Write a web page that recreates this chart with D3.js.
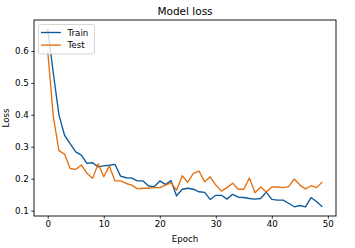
<!DOCTYPE html>
<html>
<head>
<meta charset="utf-8">
<script src="https://cdn.jsdelivr.net/npm/d3@7"></script>
<style>
  body { margin: 0; background: #fff; }
  svg text { font-family: "DejaVu Sans", sans-serif; fill: #000; }
</style>
</head>
<body>
<div id="chart"></div>
<script>
// loss per epoch
const epochs = d3.range(0, 50);
const trainLoss = [0.668, 0.53, 0.40, 0.336, 0.31, 0.284, 0.274, 0.248, 0.25, 0.237,
  0.24, 0.242, 0.245, 0.208, 0.203, 0.202, 0.193, 0.193, 0.177, 0.175,
  0.193, 0.182, 0.194, 0.146, 0.167, 0.17, 0.167, 0.159, 0.157, 0.135,
  0.148, 0.148, 0.136, 0.151, 0.142, 0.141, 0.138, 0.136, 0.138, 0.158,
  0.135, 0.133, 0.133, 0.123, 0.112, 0.116, 0.112, 0.141, 0.128, 0.112];
const testLoss = [0.60, 0.394, 0.288, 0.277, 0.232, 0.229, 0.243, 0.217, 0.201, 0.246,
  0.206, 0.24, 0.193, 0.193, 0.185, 0.18, 0.168, 0.17, 0.17, 0.172,
  0.172, 0.18, 0.187, 0.164, 0.209, 0.189, 0.217, 0.224, 0.19, 0.206,
  0.18, 0.161, 0.172, 0.186, 0.167, 0.167, 0.202, 0.156, 0.174, 0.158,
  0.174, 0.174, 0.172, 0.175, 0.199, 0.18, 0.168, 0.178, 0.172, 0.19];
const xTicks = [0, 10, 20, 30, 40, 50];
const yTicks = [0.1, 0.2, 0.3, 0.4, 0.5, 0.6];
const seriesNames = ['Train', 'Test'];
const seriesColors = ['#0d5a9a', '#e3700f'];

const width = 355, height = 248;
const margin = { top: 20, right: 19, bottom: 32, left: 34 };
const innerW = width - margin.left - margin.right;
const innerH = height - margin.top - margin.bottom;

const svg = d3.select('#chart').append('svg')
  .attr('width', width)
  .attr('height', height);

const g = svg.append('g')
  .attr('transform', 'translate(' + margin.left + ',' + margin.top + ')');

// matplotlib-style 5% padding on both axes
const x = d3.scaleLinear().domain([-2.45, 51.45]).range([0, innerW]);
const y = d3.scaleLinear().domain([0.0832, 0.6968]).range([innerH, 0]);

const line = d3.line()
  .x((d, i) => x(epochs[i]))
  .y(d => y(d));

[trainLoss, testLoss].forEach((s, k) => {
  g.append('path')
    .datum(s)
    .attr('fill', 'none')
    .attr('stroke', seriesColors[k])
    .attr('stroke-width', 1.35)
    .attr('stroke-linejoin', 'round')
    .attr('d', line);
});

// axes
const xAxis = g.append('g')
  .attr('transform', 'translate(0,' + innerH + ')')
  .call(d3.axisBottom(x).tickValues(xTicks).tickFormat(d3.format('d')).tickSize(2.7).tickPadding(2.6));
const yAxis = g.append('g')
  .call(d3.axisLeft(y).tickValues(yTicks).tickFormat(d3.format('.1f')).tickSize(2.7).tickPadding(2.6));

[xAxis, yAxis].forEach(a => {
  a.select('.domain').remove();
  a.selectAll('line').attr('stroke', '#000').attr('stroke-width', 0.8);
  a.selectAll('text').attr('font-size', '8.7px').attr('font-family', '"DejaVu Sans", sans-serif');
});

// frame
g.append('rect')
  .attr('width', innerW)
  .attr('height', innerH)
  .attr('fill', 'none')
  .attr('stroke', '#000')
  .attr('stroke-width', 0.9);

// titles
svg.append('text')
  .attr('x', margin.left + innerW / 2)
  .attr('y', 15)
  .attr('text-anchor', 'middle')
  .attr('font-size', '10.5px')
  .text('Model loss');

svg.append('text')
  .attr('x', margin.left + innerW / 2)
  .attr('y', 242)
  .attr('text-anchor', 'middle')
  .attr('font-size', '8.7px')
  .text('Epoch');

svg.append('text')
  .attr('transform', 'translate(8.5,' + (margin.top + innerH / 2) + ') rotate(-90)')
  .attr('text-anchor', 'middle')
  .attr('font-size', '8.7px')
  .text('Loss');

// legend
const legend = svg.append('g').attr('transform', 'translate(38.5,24.5)');
legend.append('rect')
  .attr('width', 56)
  .attr('height', 29.5)
  .attr('rx', 2)
  .attr('fill', '#fff')
  .attr('fill-opacity', 0.8)
  .attr('stroke', '#ccc')
  .attr('stroke-width', 0.8);

seriesNames.forEach((name, k) => {
  const row = legend.append('g').attr('transform', 'translate(0,' + (8 + k * 12.6) + ')');
  row.append('line')
    .attr('x1', 2.5).attr('x2', 22.5)
    .attr('stroke', seriesColors[k])
    .attr('stroke-width', 1.35);
  row.append('text')
    .attr('x', 29)
    .attr('y', 3.2)
    .attr('font-size', '8.7px')
    .text(name);
});
</script>
</body>
</html>
